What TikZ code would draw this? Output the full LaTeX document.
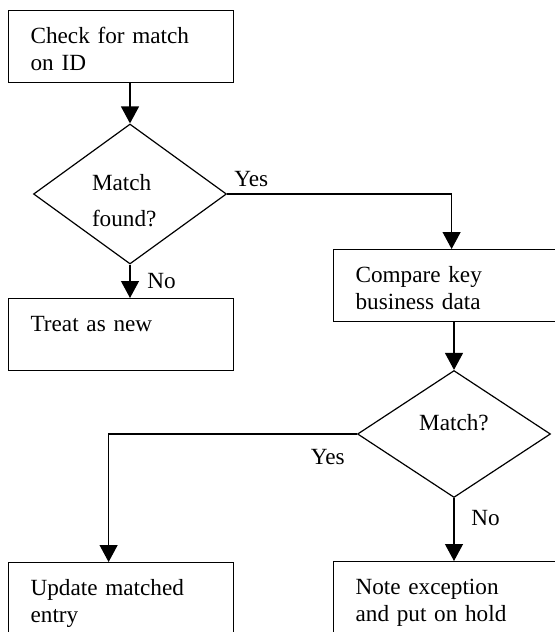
\documentclass[tikz,border=0pt]{standalone}
\usepackage{fontspec}
\setmainfont{Liberation Serif}
\usetikzlibrary{shapes.geometric}
\usetikzlibrary{arrows.meta}
\usetikzlibrary{positioning}

\begin{document}
\begin{tikzpicture}[x=0.5pt, y=-0.5pt,
    every node/.style={font=\fontsize{11.6}{13.6}\selectfont},
    box/.style={draw, line width=0.6pt, anchor=north west, text width=90.5pt, align=left,
        inner xsep=11pt, inner ysep=0pt, text height=16.5pt, text depth=19.5pt},
    decision/.style={draw, line width=0.6pt, diamond, inner sep=0pt,
        minimum width=96.5pt, minimum height=63.5pt, font=\fontsize{11.6}{18}\selectfont},
    arr/.style={line width=0.6pt, -{Triangle[width=9pt, length=8.5pt]}}]
    \useasboundingbox (0, 0) rectangle (554, 632);
    \node [box] (0) at (8, 10) {Check for match\\on ID};
    \node [decision, text width=38pt, align=left, text height=14pt, text depth=18pt] (1) at (130, 194) {Match\\found?};
    \node [box] (2) at (333, 249) {Compare key\\business data};
    \node [box] (3) at (8, 298) {Treat as new};
    \node [decision, text depth=12pt] (4) at (454, 434) {Match?};
    \node [box] (5) at (8, 562) {Update matched\\entry};
    \node [box] (6) at (333, 561) {Note exception\\and put on hold};
    % ID check
    \draw [arr] (1.north |- 0.south) to (1.north);
    \draw [arr] (1.east) -| ([xshift=2.75pt]2.north) node [pos=0, above right] {Yes};
    \draw [arr] (1.south) to node [right=5pt] {No} (1.south |- 3.north);
    % business data check
    \draw [arr] (4.north |- 2.south) to (4.north);
    \draw [arr] (4.west) -| ([xshift=-6.25pt]5.north) node [pos=0, below left=4pt and 2.5pt] {Yes};
    \draw [arr] (4.south) to node [pos=0.32, right=5pt] {No} (4.south |- 6.north);
\end{tikzpicture}
\end{document}
